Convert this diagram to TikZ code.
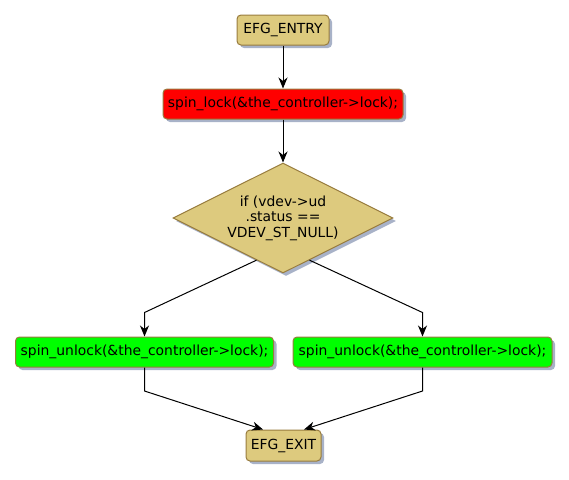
\documentclass[tikz,border=0pt]{standalone}
\usepackage{fontspec}
\setmainfont{DejaVu Sans}
\usetikzlibrary{shapes.geometric,shadows,arrows.meta,calc}
\definecolor{tanfill}{RGB}{221,202,126}
\definecolor{tanborder}{RGB}{152,124,62}
\definecolor{shadowcol}{RGB}{168,178,200}
\definecolor{redfill}{RGB}{255,0,0}
\definecolor{greenfill}{RGB}{0,255,0}
\tikzset{
  box/.style={draw=tanborder, line width=1pt, rounded corners=4pt, inner sep=0pt,
    minimum height=30pt, font=\fontsize{13.9}{15.5}\selectfont,
    drop shadow={shadow xshift=3pt, shadow yshift=-3pt, fill=shadowcol, opacity=1}},
  terminal/.style={box, fill=tanfill},
  redbox/.style={box, fill=redfill},
  greenbox/.style={box, fill=greenfill},
  decision/.style={diamond, draw=tanborder, line width=1pt, fill=tanfill, inner sep=0pt,
    minimum width=220pt, minimum height=110pt, aspect=2, align=center,
    font=\fontsize{13.9}{15.5}\selectfont,
    drop shadow={shadow xshift=3pt, shadow yshift=-3pt, fill=shadowcol, opacity=1}},
  flow/.style={draw=black, line width=1pt, -{Stealth[length=11pt,width=9pt,inset=3.5pt]}},
}
\begin{document}
\begin{tikzpicture}[x=1pt,y=-1pt]
\useasboundingbox (0,0) rectangle (569,479);
\node[terminal, minimum width=92pt] (entry) at (283,30) {EFG\_ENTRY};
\node[redbox, minimum width=240pt] (lock) at (283,104) {spin\_lock(\&the\_controller->lock);};
\node[decision] (cond) at (283,218) {if (vdev->ud\\.status ==\\VDEV\_ST\_NULL)};
\node[greenbox, minimum width=258pt] (unl) at (144.5,352) {spin\_unlock(\&the\_controller->lock);};
\node[greenbox, minimum width=259pt] (unr) at (422.5,352) {spin\_unlock(\&the\_controller->lock);};
\node[terminal, minimum width=75pt, minimum height=31pt] (exit) at (283.5,445.5) {EFG\_EXIT};

\coordinate (bl) at (144.5,312.5);
\coordinate (br) at (422.5,312.5);
\coordinate (cl) at (144.5,391);
\coordinate (cr) at (422.5,391);

\draw[flow] (entry.south) -- (lock.north);
\draw[flow] (lock.south) -- (cond.north);
\draw[flow] ($(cond.west)!0.76!(cond.south)$) -- (bl) -- (unl.north);
\draw[flow] ($(cond.east)!0.76!(cond.south)$) -- (br) -- (unr.north);
\draw[flow] (unl.south) -- (cl) -- ($(exit.north west)!0.23!(exit.north east)$);
\draw[flow] (unr.south) -- (cr) -- ($(exit.north west)!0.77!(exit.north east)$);
\end{tikzpicture}
\end{document}
